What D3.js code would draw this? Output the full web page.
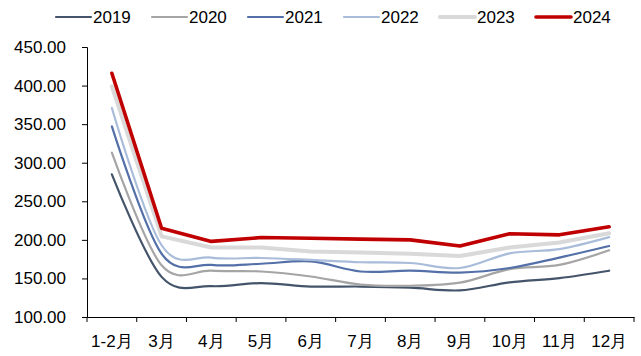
<!DOCTYPE html>
<html>
<head>
<meta charset="utf-8">
<script src="https://cdn.jsdelivr.net/npm/d3@7"></script>
<style>
  body { margin: 0; background: #fff; }
  svg text { font-family: "Liberation Sans", Arial, sans-serif; fill: #000; }
</style>
</head>
<body>
<div id="chart"></div>
<script>
// chart data
var months = ["1-2月", "3月", "4月", "5月", "6月", "7月", "8月", "9月", "10月", "11月", "12月"];
var years = ["2019", "2020", "2021", "2022", "2023", "2024"];

var v2019 = [285, 152, 140, 144, 139.5, 139.5, 138, 134.5, 145, 150.5, 160];
var v2020 = [313, 167, 160, 159, 152.5, 142, 140.5, 144.5, 162, 167.5, 186.5];
var v2021 = [347, 182, 167.5, 169, 172, 159, 160, 157.5, 163.5, 177, 192];
var v2022 = [371, 193, 177, 176.5, 174, 171, 170, 163.5, 182.5, 188, 203.5];
var v2023 = [399, 204.5, 190, 190, 185, 183.5, 182, 179, 190, 196.5, 208.5];
var v2024 = [416, 215, 198, 203, 202, 201, 200, 192, 208, 206.5, 217];

var yTicks = [100, 150, 200, 250, 300, 350, 400, 450];

var colors = ["#44546a", "#a5a5a5", "#5470a8", "#a9bcd9", "#d9d9d9", "#c00000"];
var widths = [2.2, 2.2, 2.2, 2.2, 4, 3.6];
var smooth = [true, true, true, true, false, false];

var series = [v2019, v2020, v2021, v2022, v2023, v2024];

// layout
var width = 641,
    height = 356,
    margin = {top: 47, right: 7, bottom: 39, left: 87};

var svg = d3.select("#chart").append("svg")
  .attr("width", width)
  .attr("height", height);

var x = d3.scaleBand()
  .domain(months)
  .range([margin.left, width - margin.right]);

var y = d3.scaleLinear()
  .domain([100, 450])
  .range([height - margin.bottom, margin.top]);

// y axis
var yAxis = svg.append("g")
  .attr("transform", "translate(" + margin.left + ",0)")
  .call(d3.axisLeft(y).tickValues(yTicks).tickFormat(d3.format(".2f")).tickSize(5).tickPadding(16));

yAxis.selectAll("text").style("font-size", "17px");

// x axis, ticks on category boundaries
var xAxis = svg.append("g")
  .attr("transform", "translate(0," + (height - margin.bottom) + ")")
  .call(d3.axisBottom(x).tickSize(0).tickPadding(18));

xAxis.selectAll("text").style("font-size", "17px");

var bounds = months.map(function(m) { return x(m); }).concat([x.range()[1]]);
xAxis.selectAll(".bound")
  .data(bounds)
  .enter()
  .append("line")
  .attr("class", "bound")
  .attr("x1", function(d) { return d; })
  .attr("x2", function(d) { return d; })
  .attr("y1", 0)
  .attr("y2", 5)
  .attr("stroke", "#000");

svg.selectAll(".domain").attr("stroke", "#000");
svg.selectAll(".tick line").attr("stroke", "#000");

// lines
series.forEach(function(vals, i) {
  var line = d3.line()
    .x(function(d, j) { return x(months[j]) + x.bandwidth() / 2; })
    .y(function(d) { return y(d); })
    .curve(smooth[i] ? d3.curveCardinal.tension(0) : d3.curveLinear);

  svg.append("path")
    .datum(vals)
    .attr("d", line)
    .attr("fill", "none")
    .attr("stroke", colors[i])
    .attr("stroke-width", widths[i])
    .attr("stroke-linejoin", "round")
    .attr("stroke-linecap", "round");
});

// legend
var legend = svg.append("g")
  .attr("transform", "translate(56,17)");

var item = legend.selectAll("g")
  .data(years)
  .enter()
  .append("g")
  .attr("transform", function(d, i) { return "translate(" + (i * 96) + ",0)"; });

item.append("line")
  .attr("x1", 0)
  .attr("x2", 35)
  .attr("y1", 0)
  .attr("y2", 0)
  .attr("stroke", function(d, i) { return colors[i]; })
  .attr("stroke-width", function(d, i) { return widths[i]; })
  .attr("stroke-linecap", "round");

item.append("text")
  .attr("x", 37)
  .attr("y", 0)
  .attr("dy", "0.35em")
  .style("font-size", "17px")
  .text(function(d) { return d; });
</script>
</body>
</html>
